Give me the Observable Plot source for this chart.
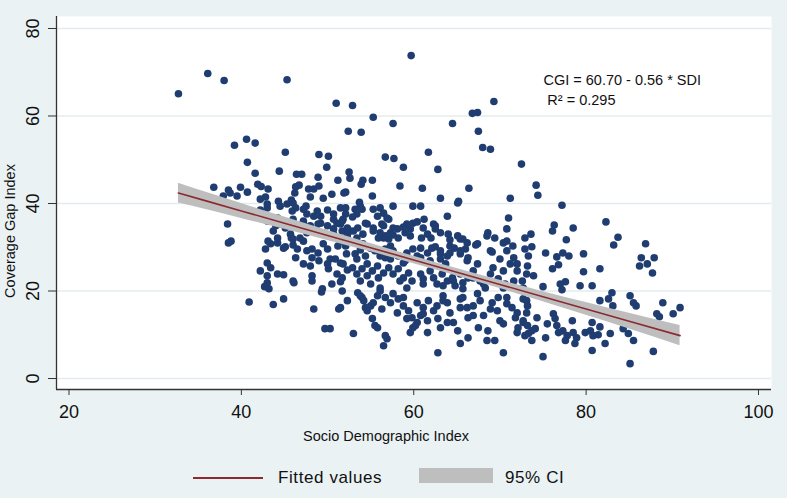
<!DOCTYPE html>
<html>
<head>
<meta charset="utf-8">
<script src="https://cdn.jsdelivr.net/npm/d3@7"></script>
<script src="https://cdn.jsdelivr.net/npm/@observablehq/plot@0.6"></script>
<style>
html, body { margin: 0; padding: 0; background: #eaf2f4; }
#wrap { position: relative; width: 787px; height: 498px; font-family: "Liberation Sans", Arial, sans-serif; overflow: hidden; }
#legend { position: absolute; left: 0; top: 450px; width: 787px; height: 48px; }
.lg { position: absolute; }
.lgtext { font-size: 17px; letter-spacing: 0.6px; line-height: 20px; top: 18px; color: #111; }
</style>
</head>
<body>
<div id="wrap">
  <div id="chart"></div>
  <div id="legend"></div>
</div>
<script>
// ---- Data (SDI, CGI) ----
const xTicks = [20, 40, 60, 80, 100];
const yTicks = [0, 20, 40, 60, 80];
const legendLabels = ["Fitted values", "95% CI"];
const equationText = "CGI = 60.70 - 0.56 * SDI";
const r2Text = "R\u00B2 = 0.295";

// Fitted line and 95% CI band at these SDI values
const fitSdi  = [32.7, 36, 40, 45, 50, 55, 60, 65, 70, 75, 80, 85, 90.9];
const fitCgi  = [42.39, 40.54, 38.30, 35.50, 32.70, 29.90, 27.10, 24.30, 21.50, 18.70, 15.90, 13.10, 9.80];
const ciLow   = [40.14, 38.59, 36.60, 34.10, 31.55, 28.95, 26.25, 23.45, 20.55, 17.55, 14.45, 11.30, 7.50];
const ciHigh  = [44.64, 42.49, 40.00, 36.90, 33.85, 30.85, 27.95, 25.15, 22.45, 19.85, 17.35, 14.90, 12.10];

const topOutliers = [[32.7,65.1],[36.1,69.7],[38.0,68.1],[45.3,68.3],[59.7,73.8],[51.0,62.9],[52.9,62.4],[55.3,59.7],[57.6,58.3],[64.5,58.3],[66.8,60.6],[67.4,60.8],[69.3,63.3]];

const upperBand = [[39.2,53.3],[40.6,54.7],[41.6,53.8],[40.7,49.4],[41.6,46.9],[36.8,43.7],[38.5,43.1],[38.7,42.4],[39.9,43.7],[40.7,42.6],[41.9,44.4],[52.4,56.5],[53.9,56.3],[67.5,56.5],[68.0,52.8],[68.9,52.4],[72.5,49.0],[45.1,51.7],[49.0,51.2],[50.1,50.8],[49.9,48.3],[56.7,50.6],[57.7,50.3],[58.8,48.3],[61.7,51.7],[62.8,47.8],[44.4,47.4],[46.4,46.7],[47.0,46.7],[48.9,46.0],[52.5,47.2],[52.6,45.8],[51.2,45.3],[54.1,45.3],[55.2,45.3],[53.9,44.4],[58.4,44.0],[61.0,43.5],[66.4,43.5],[71.2,41.2],[50.5,42.1],[52.1,42.6],[55.2,41.7],[63.1,41.2],[65.2,40.5],[46.7,44.2],[46.3,43.8],[47.8,43.3],[48.4,43.3],[49.0,44.0],[43.1,43.3],[51.9,42.4],[46.2,42.4],[48.0,41.5],[49.5,41.2],[39.5,41.7],[37.9,41.7],[42.2,41.0],[42.8,41.5],[44.3,40.5],[45.8,40.8],[42.3,43.9],[74.2,44.2],[74.4,41.9]];

const midUpperBand = [[38.4,35.3],[38.5,31.0],[38.8,31.4],[45.3,39.9],[46.3,39.0],[47.5,39.4],[47.6,37.6],[48.4,37.1],[48.8,38.3],[50.0,38.5],[50.7,37.6],[51.5,39.0],[52.1,37.6],[51.7,36.0],[51.1,35.5],[50.0,34.9],[49.2,35.5],[47.2,35.5],[46.0,36.4],[46.3,34.9],[44.2,36.7],[44.5,35.3],[43.7,33.7],[43.0,39.0],[42.2,38.5],[44.2,32.1],[45.7,33.0],[46.8,32.1],[47.6,33.3],[48.8,33.7],[50.7,33.0],[51.7,33.7],[52.3,32.1],[43.0,39.9],[44.5,39.4],[46.0,40.1],[45.9,38.3],[47.2,38.7],[49.2,37.1],[50.7,36.4],[52.1,39.0],[53.4,37.6],[53.8,39.4],[55.3,38.7],[55.8,37.1],[56.5,37.8],[57.1,36.4],[57.6,39.4],[59.9,39.4],[60.8,39.4],[63.9,37.1],[65.1,40.1],[71.0,36.7],[70.8,34.2],[43.0,36.0],[44.0,34.9],[45.1,34.4],[43.1,31.4],[44.2,31.0],[46.0,31.9],[47.2,36.0],[48.0,34.9],[48.9,35.3],[49.5,33.3],[50.7,34.2],[51.5,35.3],[52.6,33.7],[53.5,34.4],[54.6,35.3],[55.3,33.7],[55.9,32.1],[56.5,34.9],[57.3,33.3],[58.1,34.2],[59.2,35.3],[59.9,35.5],[61.1,34.4],[62.3,35.3],[65.4,31.9],[66.2,31.0],[68.6,33.3],[69.4,32.1],[70.8,31.4],[53.7,40.3],[53.2,38.7],[54.0,38.7],[56.1,39.0],[56.9,36.7],[61.2,36.4],[60.4,35.8],[72.9,32.1],[62.5,34.9],[62.5,34.2],[62.0,32.1],[60.9,32.1],[58.8,34.6],[59.6,34.2],[57.6,34.4],[56.3,35.3],[55.3,34.4],[56.5,32.1],[57.1,31.9],[54.4,35.5],[54.1,33.0],[53.0,33.7],[52.3,34.4],[51.8,36.4],[52.9,36.9],[64.2,31.7],[64.0,33.0],[65.7,31.9],[52.3,33.0],[53.4,32.1],[56.1,33.3],[56.7,32.6],[57.6,32.8],[58.2,32.1],[59.0,33.3],[59.6,32.6],[61.6,33.0],[63.1,33.3],[65.1,32.6],[67.2,30.5],[68.5,32.6],[70.4,31.0],[71.5,30.3],[51.5,31.4],[52.1,30.3],[54.1,30.8],[57.3,30.3],[62.5,30.1],[73.6,33.0],[73.7,30.1],[76.1,33.7],[76.3,35.1],[78.5,34.4],[77.7,31.7],[77.2,39.6],[82.3,35.8],[83.7,32.3],[83.2,30.5],[86.9,30.8],[45.8,32.1],[47.2,31.4],[49.5,30.8],[51.2,30.3],[45.1,30.1],[46.0,30.5]];

const midBand = [[48.2,29.6],[48.9,28.7],[50.0,29.6],[52.2,28.5],[46.3,27.6],[47.2,26.2],[48.0,25.7],[49.0,26.9],[50.0,26.2],[50.3,27.3],[50.9,27.3],[50.1,25.1],[51.1,23.9],[51.7,23.0],[51.5,22.1],[52.3,24.8],[43.0,26.4],[43.4,25.3],[44.2,23.9],[44.9,23.7],[43.0,21.9],[42.7,21.0],[43.2,20.5],[46.1,21.9],[48.2,23.5],[48.2,22.3],[49.3,19.8],[40.9,17.5],[43.7,16.9],[44.9,18.2],[48.4,15.9],[51.3,15.9],[49.7,11.4],[50.3,11.4],[42.8,29.6],[43.4,30.8],[44.9,29.8],[46.5,29.6],[47.6,29.2],[48.2,27.6],[51.5,26.4],[42.2,24.6],[43.0,23.5],[46.0,22.3],[49.4,20.5],[50.5,21.6],[53.2,28.5],[53.8,29.4],[54.4,28.0],[55.0,29.8],[55.5,29.2],[56.1,28.0],[56.7,29.6],[57.6,29.2],[57.3,27.3],[58.2,28.0],[59.0,26.9],[59.2,28.7],[59.9,29.6],[60.8,29.8],[60.4,28.0],[61.6,28.7],[61.9,26.9],[63.1,29.2],[63.1,27.3],[63.7,26.2],[64.7,29.8],[64.2,28.7],[63.9,28.0],[66.0,29.6],[65.4,28.5],[66.3,27.6],[69.1,28.9],[70.8,29.2],[72.9,29.6],[51.8,26.2],[52.9,25.3],[53.4,23.9],[54.0,25.1],[54.6,23.5],[55.2,24.6],[55.8,25.7],[55.9,23.0],[56.5,24.1],[57.1,25.3],[57.6,23.9],[58.2,25.1],[58.8,23.0],[59.4,24.1],[59.8,22.3],[60.8,23.9],[61.1,22.8],[61.9,24.6],[62.3,23.0],[62.7,21.6],[63.3,23.9],[63.9,22.3],[64.5,23.0],[64.8,21.2],[65.4,23.9],[65.7,21.9],[66.3,23.0],[66.9,24.6],[67.4,26.2],[67.7,22.3],[68.3,20.7],[68.9,23.9],[69.2,25.3],[69.8,22.8],[70.4,24.6],[71.2,26.2],[71.6,27.6],[72.0,24.6],[72.6,22.3],[73.1,23.9],[70.6,21.6],[53.4,27.3],[54.6,26.2],[56.7,27.6],[58.8,26.4],[60.8,27.6],[62.1,29.8],[63.1,28.5],[64.2,30.3],[65.4,29.2],[66.2,26.9],[67.4,30.8],[68.9,29.2],[70.0,27.3],[72.0,26.2],[53.8,22.3],[55.0,21.6],[56.1,20.7],[58.4,22.3],[59.2,20.7],[61.1,21.6],[63.4,21.2],[64.6,22.3],[65.7,20.5],[66.9,23.0],[68.1,21.6],[70.4,20.7],[71.6,22.3],[72.7,20.7],[73.3,28.0],[75.3,28.7],[76.6,27.8],[77.3,28.7],[78.0,28.0],[79.7,28.5],[86.4,27.6],[87.9,27.6],[87.1,26.2],[86.2,25.7],[87.7,24.1],[73.2,25.7],[73.9,23.5],[76.1,25.1],[76.8,26.0],[79.7,24.4],[81.6,25.1],[75.0,21.0],[77.0,21.6],[77.6,22.1],[77.2,20.3],[79.3,21.2],[80.7,21.2],[83.0,19.6],[82.6,18.2],[81.6,17.8],[85.1,18.9],[88.9,17.3],[90.9,16.2]];

const lowBand = [[51.5,16.2],[53.5,19.6],[54.0,18.5],[54.4,16.2],[54.6,15.5],[55.2,13.7],[55.5,12.1],[55.3,17.3],[55.8,18.9],[56.1,20.0],[56.7,18.5],[57.3,17.3],[57.6,19.4],[58.2,18.2],[58.8,16.6],[59.4,15.5],[59.8,13.9],[59.9,11.6],[60.4,12.8],[60.8,14.4],[61.1,16.2],[61.6,10.5],[61.7,17.8],[62.3,15.5],[62.7,16.6],[62.8,13.7],[63.1,11.6],[63.4,18.9],[63.9,17.3],[64.2,15.0],[64.6,12.8],[65.1,10.9],[62.8,5.9],[65.4,16.2],[65.7,18.5],[66.3,13.9],[66.9,16.6],[67.4,19.4],[67.5,11.6],[68.1,14.4],[68.5,8.7],[68.6,10.9],[69.4,8.7],[69.1,17.3],[69.7,15.5],[70.0,13.2],[70.4,5.9],[70.8,18.5],[71.4,16.2],[71.8,13.9],[72.1,11.6],[72.7,18.2],[73.1,15.0],[73.3,10.3],[53.0,10.3],[56.5,7.5],[56.9,9.1],[52.3,17.8],[51.7,20.0],[53.8,18.9],[54.2,17.8],[55.0,16.6],[56.3,15.9],[58.1,15.0],[58.8,18.5],[60.4,17.3],[61.1,14.8],[63.4,17.8],[65.4,18.2],[66.2,16.2],[66.9,14.4],[67.7,17.8],[68.9,15.9],[69.8,18.5],[70.8,17.1],[72.0,15.0],[73.1,17.8],[55.8,11.6],[56.7,9.8],[59.2,13.7],[60.2,12.1],[61.6,13.2],[63.9,12.8],[66.3,9.3],[70.4,12.5],[72.0,10.5],[72.7,13.2],[65.4,8.0],[59.6,10.5],[73.2,16.6],[72.7,12.8],[73.2,12.1],[73.7,10.9],[74.1,11.4],[72.9,9.8],[73.7,8.7],[75.0,5.0],[75.3,9.3],[76.2,14.8],[76.4,13.7],[76.6,12.1],[76.8,10.5],[77.3,10.9],[77.8,9.8],[77.6,8.7],[78.5,10.5],[78.9,9.3],[78.7,8.0],[78.4,13.2],[79.9,10.5],[80.7,12.8],[80.5,10.9],[80.7,6.4],[80.8,9.8],[81.6,11.8],[81.4,10.0],[82.2,8.0],[82.8,10.3],[83.9,13.7],[84.3,11.4],[84.9,10.3],[85.5,8.7],[85.1,3.4],[87.8,6.2],[75.5,12.5],[74.3,13.9],[83.1,16.6],[85.5,17.3],[85.8,16.6],[88.2,14.8],[88.5,14.1],[90.1,14.8]];

const points = [...topOutliers, ...upperBand, ...midUpperBand, ...midBand, ...lowBand]
  .map(([sdi, cgi]) => ({sdi, cgi}));
const fitTable = fitSdi.map((sdi, i) => ({sdi, fit: fitCgi[i], lo: ciLow[i], hi: ciHigh[i]}));

// ---- Styling ----
const navy = "#203d72";
const maroon = "#8c2a30";
const ciGray = "#bebebe";
const xDomain = [18.55, 101.51];
const yDomain = [-2.51, 82.74];

const chart = Plot.plot({
  width: 787,
  height: 450,
  marginLeft: 56,
  marginRight: 16,
  marginTop: 16,
  marginBottom: 61,
  style: {background: "transparent", fontFamily: "'Liberation Sans', Arial, sans-serif", color: "#111", overflow: "visible"},
  x: {domain: xDomain, label: null},
  y: {domain: yDomain, label: null},
  marks: [
    Plot.frame({fill: "white", stroke: null}),
    Plot.gridY(yTicks, {stroke: "#e4ebee", strokeOpacity: 1, strokeWidth: 1.3}),
    Plot.dot(points, {x: "sdi", y: "cgi", r: 3.8, fill: navy, stroke: null}),
    Plot.areaY(fitTable, {x: "sdi", y1: "lo", y2: "hi", fill: ciGray, fillOpacity: 1, curve: "monotone-x"}),
    Plot.line(fitTable, {x: "sdi", y: "fit", stroke: maroon, strokeWidth: 1.6}),
    Plot.ruleX([xDomain[0]], {stroke: "#333", strokeWidth: 1.3}),
    Plot.ruleY([yDomain[0]], {stroke: "#333", strokeWidth: 1.3}),
    Plot.axisX(xTicks, {tickSize: 6, tickPadding: 10, fontSize: 18, label: null, stroke: "#333"}),
    Plot.axisY(yTicks, {tickSize: 8, tickFormat: () => "", label: null, stroke: "#333"}),
    Plot.text(yTicks, {y: d => d, text: d => String(d), frameAnchor: "left", dx: -23, rotate: -90, textAnchor: "middle", lineAnchor: "middle", fontSize: 18, fill: "#111"}),
    Plot.text(["Socio Demographic Index"], {frameAnchor: "bottom", dx: -28, dy: 47, textAnchor: "middle", lineAnchor: "middle", fontSize: 14.5, fill: "#111"}),
    Plot.text(["Coverage Gap Index"], {frameAnchor: "left", dx: -46, dy: 28, rotate: -90, textAnchor: "middle", lineAnchor: "middle", fontSize: 14.5, fill: "#111"}),
    Plot.text([equationText], {x: 75.05, y: 68.1, textAnchor: "start", fontSize: 14.5, fill: "#111"}),
    Plot.text([r2Text], {x: 75.5, y: 63.5, textAnchor: "start", fontSize: 14.5, fill: "#111"})
  ]
});
document.getElementById("chart").appendChild(chart);

// ---- Legend below the SVG ----
const legend = document.getElementById("legend");
legend.innerHTML = `
  <div class="lg" style="left:193px;top:27px;width:70px;height:1.6px;background:${maroon}"></div>
  <div class="lg lgtext" style="left:278px">${legendLabels[0]}</div>
  <div class="lg" style="left:419px;top:18px;width:74px;height:15px;background:${ciGray}"></div>
  <div class="lg lgtext" style="left:505px">${legendLabels[1]}</div>
`;
</script>
</body>
</html>
